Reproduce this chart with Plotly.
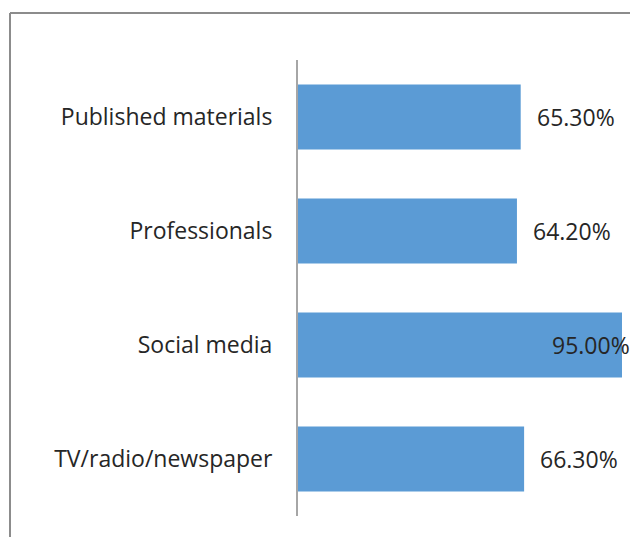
import plotly.graph_objects as go

# Share of respondents by information source
categories = ["Published materials", "Professionals", "Social media", "TV/radio/newspaper"]
values = [65.30, 64.20, 95.00, 66.30]
value_labels = ["65.30%", "64.20%", "95.00%", "66.30%"]

BAR_COLOR = "#5B9BD5"
TEXT_COLOR = "#262626"
FONT = "Open Sans"
FONT_SIZE = 23

W, H = 630, 537
M_L, M_R, M_T, M_B = 298, 0, 60, 21
X_MAX = 97.35

fig = go.Figure(
    go.Bar(
        y=categories,
        x=values,
        orientation="h",
        marker=dict(color=BAR_COLOR, line=dict(width=0)),
        hoverinfo="skip",
    )
)

# Value labels: just past each bar end; the widest bar keeps its label inside the frame
annotations = []
vmax = max(values)
for cat, v, lab in zip(categories, values, value_labels):
    if v == vmax:
        annotations.append(dict(x=v, y=cat, text=lab, xref="x", yref="y",
                                xanchor="right", xshift=10, showarrow=False,
                                font=dict(family=FONT, size=FONT_SIZE, color=TEXT_COLOR)))
    else:
        annotations.append(dict(x=v, y=cat, text=lab, xref="x", yref="y",
                                xanchor="left", xshift=14, showarrow=False,
                                font=dict(family=FONT, size=FONT_SIZE, color=TEXT_COLOR)))

# Outer chart frame (top and left edges)
pw = W - M_L - M_R
ph = H - M_T - M_B
fx0 = (10 - M_L) / pw
fy0 = (H - M_B - 13) / ph
frame = [
    dict(type="line", xref="paper", yref="paper", x0=fx0, x1=(W + 5 - M_L) / pw,
         y0=fy0, y1=fy0, line=dict(color="#8c8c8c", width=2), layer="above"),
    dict(type="line", xref="paper", yref="paper", x0=fx0, x1=fx0,
         y0=fy0, y1=-(M_B + 5) / ph, line=dict(color="#8c8c8c", width=2), layer="above"),
]

fig.update_layout(
    width=W, height=H,
    margin=dict(l=M_L, r=M_R, t=M_T, b=M_B, pad=0),
    paper_bgcolor="white", plot_bgcolor="white",
    bargap=0.43,
    showlegend=False,
    annotations=annotations,
    shapes=frame,
    font=dict(family=FONT, size=FONT_SIZE, color=TEXT_COLOR),
    xaxis=dict(range=[0, X_MAX], visible=False, fixedrange=True),
    yaxis=dict(
        categoryorder="array", categoryarray=categories[::-1],
        showline=True, linecolor="#a6a6a6", linewidth=2,
        ticks="", ticklabelstandoff=19, showgrid=False, zeroline=False,
        tickfont=dict(family=FONT, size=FONT_SIZE, color=TEXT_COLOR),
        fixedrange=True,
    ),
)

fig.write_html("out.html", config=dict(displayModeBar=False))
